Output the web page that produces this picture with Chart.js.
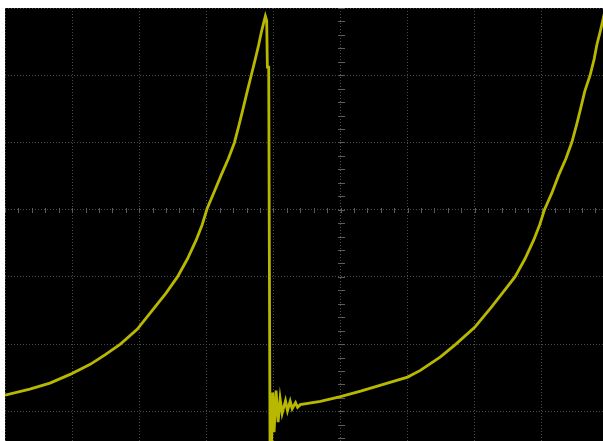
<!DOCTYPE html>
<html lang="en">
<head>
    <meta charset="UTF-8">
    <title>Scope trace</title>
    <script src="https://cdn.jsdelivr.net/npm/chart.js"></script>
    <style>
        body {
            margin: 0;
            background: #fff;
            overflow: hidden;
            width: 603px;
            height: 441px;
        }
        #scope {
            position: absolute;
            left: 5px;
            top: 8px;
            background: #000;
        }
    </style>
</head>
<body>
    <canvas id="scope" width="671" height="437"></canvas>
    <script>
        // time axis in divisions (centre = 0)
        const timeDiv = [
            // first ramp
            -5.00, -4.63, -4.33, -4.03, -3.73, -3.51, -3.28, -3.03, -2.79, -2.60,
            -2.43, -2.28, -2.15, -2.06, -1.99, -1.88, -1.78, -1.67, -1.58, -1.51,
            -1.45, -1.39, -1.33, -1.27, -1.22, -1.18, -1.15, -1.12,
            // fall and ringing
            -1.10, -1.09, -1.07, -1.05, -1.03, -1.01, -0.99, -0.96, -0.93, -0.90,
            -0.87, -0.82, -0.79, -0.75, -0.72, -0.67, -0.64,
            // second ramp
            -0.60, -0.30, 0.00, 0.30, 0.60, 1.00, 1.19, 1.49, 1.72, 2.00,
            2.24, 2.43, 2.60, 2.75, 2.88, 2.97, 3.04, 3.15, 3.25, 3.36,
            3.45, 3.52, 3.58, 3.64, 3.72, 3.78, 3.82, 3.88, 3.93, 3.97
        ];
        // channel 1 level in divisions (centre = 0)
        const ch1Div = [
            -2.76, -2.67, -2.58, -2.45, -2.30, -2.16, -2.00, -1.78, -1.48, -1.24,
            -1.00, -0.73, -0.45, -0.22, 0.01, 0.27, 0.51, 0.76, 1.00, 1.27,
            1.51, 1.76, 2.00, 2.24, 2.45, 2.64, 2.76, 2.88,
            2.81, 2.12, 2.12, -3.60, -3.60, -2.72, -3.31, -2.69, -3.16, -2.81,
            -3.03, -2.84, -2.99, -2.85, -2.96, -2.87, -2.94,
            -2.90, -2.85, -2.78, -2.70, -2.61, -2.49, -2.39, -2.19, -2.00, -1.75,
            -1.46, -1.22, -1.00, -0.73, -0.45, -0.22, 0.00, 0.25, 0.51, 0.76,
            1.01, 1.27, 1.51, 1.76, 2.00, 2.24, 2.45, 2.69, 2.91, 3.06
        ];

        const trace = timeDiv.map((t, i) => ({ x: t, y: ch1Div[i] }));

        // small marks on the centre crosshair, every 1/5 division
        const crosshairTicks = {
            id: 'crosshairTicks',
            beforeDatasetsDraw(chart) {
                const { ctx, scales: { x, y } } = chart;
                const cx = Math.round(x.getPixelForValue(0)) + 0.5;
                const cy = Math.round(y.getPixelForValue(0)) + 0.5;
                ctx.save();
                ctx.strokeStyle = '#5c5c5c';
                ctx.lineWidth = 1;
                ctx.beginPath();
                for (let v = -5; v <= 5.001; v += 0.2) {
                    const px = Math.round(x.getPixelForValue(v)) + 0.5;
                    ctx.moveTo(px, cy - 2.5);
                    ctx.lineTo(px, cy + 2.5);
                }
                for (let v = -3.4; v <= 3.001; v += 0.2) {
                    const py = Math.round(y.getPixelForValue(v)) + 0.5;
                    ctx.moveTo(cx - 3.5, py);
                    ctx.lineTo(cx + 3.5, py);
                }
                ctx.stroke();
                ctx.restore();
            }
        };

        const gridOpts = {
            color: '#4a4a4a',
            lineWidth: 1,
            drawTicks: false
        };

        new Chart(document.getElementById('scope'), {
            type: 'line',
            data: {
                datasets: [{
                    data: trace,
                    borderColor: '#b8b800',
                    borderWidth: 2.8,
                    pointRadius: 0,
                    tension: 0
                }]
            },
            plugins: [crosshairTicks],
            options: {
                responsive: false,
                animation: false,
                events: [],
                layout: { padding: 0 },
                plugins: {
                    legend: { display: false },
                    tooltip: { enabled: false }
                },
                scales: {
                    x: {
                        type: 'linear',
                        min: -5,
                        max: 5,
                        ticks: { display: false, stepSize: 1 },
                        grid: gridOpts,
                        border: { display: false, dash: [1, 2] }
                    },
                    y: {
                        type: 'linear',
                        min: -3.5,
                        max: 3,
                        ticks: { display: false, stepSize: 1 },
                        grid: gridOpts,
                        border: { display: false, dash: [1, 2] }
                    }
                }
            }
        });
    </script>
</body>
</html>
